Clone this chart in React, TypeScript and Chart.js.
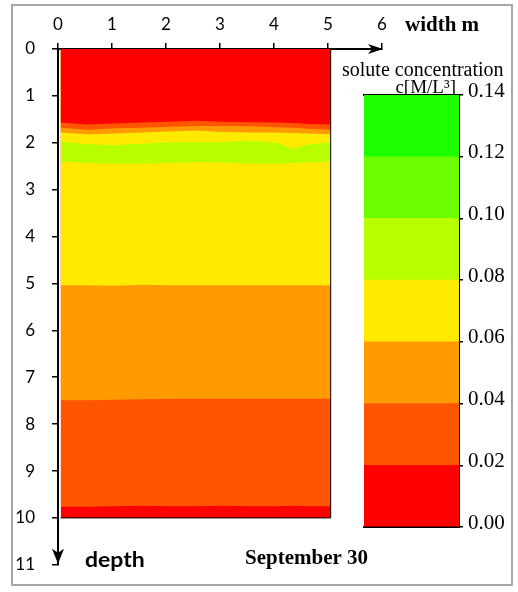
import React, { useEffect, useRef } from "react";
import { Chart, registerables } from "chart.js";

Chart.register(...registerables);

// ---- axes ----
const widthTicks = [0, 1, 2, 3, 4, 5, 6];
const depthTicks = [0, 1, 2, 3, 4, 5, 6, 7, 8, 9, 10, 11];

// ---- contour boundaries (depth, m) sampled along the width (m) ----
const xs = [0.05, 0.55, 1.05, 1.55, 2.05, 2.55, 3.05, 3.55, 4.05, 4.35, 4.65, 5.05];
const bRedOrangeRed = [1.57, 1.61, 1.59, 1.57, 1.55, 1.53, 1.55, 1.56, 1.57, 1.58, 1.6, 1.61];
const bOrangeRedOrange = [1.68, 1.72, 1.69, 1.68, 1.66, 1.64, 1.64, 1.65, 1.67, 1.68, 1.7, 1.72];
const bOrangeYellow = [1.78, 1.82, 1.8, 1.78, 1.76, 1.74, 1.77, 1.78, 1.78, 1.79, 1.8, 1.82];
const bYellowGreen = [1.97, 2.03, 2.05, 2.02, 1.99, 1.99, 1.99, 1.95, 2.0, 2.13, 2.03, 1.99];
const bGreenYellow = [2.4, 2.43, 2.44, 2.44, 2.43, 2.41, 2.42, 2.44, 2.44, 2.43, 2.42, 2.4];
const bYellowOrange = [5.04, 5.04, 5.05, 5.03, 5.04, 5.04, 5.04, 5.04, 5.04, 5.04, 5.04, 5.04];
const bOrangeOrangeRed = [7.49, 7.49, 7.48, 7.47, 7.46, 7.46, 7.46, 7.46, 7.46, 7.46, 7.46, 7.46];
const bOrangeRedRed = [9.76, 9.76, 9.75, 9.74, 9.75, 9.75, 9.74, 9.75, 9.75, 9.74, 9.75, 9.75];
const bBottom = [10, 10, 10, 10, 10, 10, 10, 10, 10, 10, 10, 10];

// ---- colour scale ----
const concLevels = [0, 0.02, 0.04, 0.06, 0.08, 0.1, 0.12, 0.14];
const concColors = ["#FF0000", "#FF5500", "#FF9A00", "#FFEA00", "#B8FF00", "#6CFF00", "#1EFF00"];

// boundary -> colour of the band lying just above it
const boundaries = [
  bRedOrangeRed,
  bOrangeRedOrange,
  bOrangeYellow,
  bYellowGreen,
  bGreenYellow,
  bYellowOrange,
  bOrangeOrangeRed,
  bOrangeRedRed,
  bBottom,
];
const bandColors = [
  concColors[0],
  concColors[1],
  concColors[2],
  concColors[3],
  concColors[4],
  concColors[3],
  concColors[2],
  concColors[1],
  concColors[0],
];

const SERIF = "'Liberation Serif', 'Times New Roman', serif";
const SANS = "Lato, 'Open Sans', sans-serif";

function drawText(
  ctx: CanvasRenderingContext2D,
  text: string,
  x: number,
  y: number,
  font: string,
  align: CanvasTextAlign = "left",
  sx = 1
) {
  ctx.save();
  ctx.font = font;
  ctx.fillStyle = "#000";
  ctx.textAlign = align;
  ctx.textBaseline = "alphabetic";
  ctx.translate(x, y);
  ctx.scale(sx, 1);
  ctx.fillText(text, 0, 0);
  ctx.restore();
}

const framePlugin = {
  id: "frame",
  beforeDraw(chart: any) {
    const ctx = chart.ctx as CanvasRenderingContext2D;
    ctx.save();
    ctx.fillStyle = "#fff";
    ctx.fillRect(0, 0, chart.width, chart.height);
    ctx.strokeStyle = "#A6A6A6";
    ctx.lineWidth = 2;
    ctx.strokeRect(12, 5, 500, 580);
    ctx.restore();
  },
  afterDraw(chart: any) {
    const ctx = chart.ctx as CanvasRenderingContext2D;
    const xs_ = chart.scales.x;
    const ys_ = chart.scales.y;
    const top = chart.chartArea.top;
    const left = chart.chartArea.left;
    ctx.save();
    ctx.fillStyle = "#000";
    // arrow at end of width axis
    const ax = xs_.getPixelForValue(6);
    ctx.beginPath();
    ctx.moveTo(ax + 1, top);
    ctx.lineTo(ax - 14, top - 5);
    ctx.lineTo(ax - 10, top);
    ctx.lineTo(ax - 14, top + 5);
    ctx.closePath();
    ctx.fill();
    // arrow at end of depth axis
    const ay = ys_.getPixelForValue(11) - 1;
    ctx.beginPath();
    ctx.moveTo(left, ay);
    ctx.lineTo(left - 6, ay - 15);
    ctx.lineTo(left, ay - 11);
    ctx.lineTo(left + 6, ay - 15);
    ctx.closePath();
    ctx.fill();
    ctx.restore();

    drawText(ctx, "width m", 405, 31, `bold 21px ${SERIF}`);
    drawText(ctx, "solute concentration", 342, 76, `20px ${SERIF}`);
    drawText(ctx, "c[M/L³]", 456, 93, `19px ${SERIF}`, "right");
    drawText(ctx, "depth", 85, 567, `bold 20px ${SANS}`, "left", 1.15);
    drawText(ctx, "September 30", 245, 564, `bold 21px ${SERIF}`);
  },
};

export default function App() {
  const mainRef = useRef<HTMLCanvasElement | null>(null);
  const barRef = useRef<HTMLCanvasElement | null>(null);

  useEffect(() => {
    const main = new Chart(mainRef.current as HTMLCanvasElement, {
      type: "line",
      data: {
        datasets: [
          ...boundaries.map((b, i) => ({
            data: xs.map((x, j) => ({ x, y: b[j] })),
            backgroundColor: bandColors[i],
            borderColor: "transparent",
            borderWidth: 1,
            pointRadius: 0,
            fill: { value: 0 },
            tension: 0,
            order: 0,
          })),
          {
            data: [
              { x: xs[0], y: 10 },
              { x: xs[xs.length - 1], y: 10 },
              { x: xs[xs.length - 1], y: 0 },
            ],
            borderColor: "#000",
            borderWidth: 1,
            pointRadius: 0,
            fill: false,
            tension: 0,
            order: -1,
          },
        ],
      },
      options: {
        animation: false,
        responsive: false,
        maintainAspectRatio: false,
        layout: { padding: { left: 0, top: 0, right: 136, bottom: 13 } },
        plugins: { legend: { display: false }, tooltip: { enabled: false } },
        scales: {
          x: {
            type: "linear",
            position: "top",
            min: 0,
            max: 6,
            afterBuildTicks: (s: any) => {
              s.ticks = widthTicks.map((v) => ({ value: v }));
            },
            afterFit: (s: any) => {
              s.height = 49;
            },
            ticks: {
              font: { family: SANS, size: 17 },
              color: "#000",
              padding: 8,
              maxRotation: 0,
              autoSkip: false,
            },
            grid: { drawOnChartArea: false, tickLength: 6, color: "#000", lineWidth: 1.5 },
            border: { color: "#000", width: 2 },
          },
          y: {
            type: "linear",
            reverse: true,
            min: 0,
            max: 11,
            afterBuildTicks: (s: any) => {
              s.ticks = depthTicks.map((v) => ({ value: v }));
            },
            afterFit: (s: any) => {
              s.width = 58;
            },
            ticks: {
              font: { family: SANS, size: 17 },
              color: "#000",
              padding: 17,
              autoSkip: false,
            },
            grid: { drawOnChartArea: false, tickLength: 6, color: "#000", lineWidth: 1.5 },
            border: { color: "#000", width: 2 },
          },
        },
      },
      plugins: [framePlugin],
    } as any);

    const bar = new Chart(barRef.current as HTMLCanvasElement, {
      type: "bar",
      data: {
        labels: ["c"],
        datasets: concColors.map((col, i) => ({
          data: [[concLevels[i], concLevels[i + 1]]],
          backgroundColor: col,
          borderWidth: 0,
          barPercentage: 1,
          categoryPercentage: 1,
          grouped: false,
        })),
      },
      options: {
        animation: false,
        responsive: false,
        maintainAspectRatio: false,
        layout: { padding: { left: 364, top: 95, right: 0, bottom: 65 } },
        plugins: { legend: { display: false }, tooltip: { enabled: false } },
        scales: {
          x: {
            type: "category",
            position: "bottom",
            ticks: { display: false },
            grid: { display: false },
            border: { color: "#000", width: 2 },
            afterFit: (s: any) => {
              s.height = 0;
            },
          },
          xTop: {
            type: "category",
            position: "top",
            ticks: { display: false },
            grid: { display: false },
            border: { color: "#000", width: 2 },
            afterFit: (s: any) => {
              s.height = 0;
            },
          },
          y: {
            type: "linear",
            position: "right",
            min: 0,
            max: 0.14,
            afterBuildTicks: (s: any) => {
              s.ticks = concLevels.map((v) => ({ value: v }));
            },
            afterFit: (s: any) => {
              s.width = 59;
            },
            ticks: {
              callback: (v: any) => Number(v).toFixed(2),
              font: { family: SERIF, size: 21 },
              color: "#000",
              padding: 5,
              labelOffset: -4,
              autoSkip: false,
            },
            grid: { drawOnChartArea: false, tickLength: 4, color: "#000", lineWidth: 1.5 },
            border: { color: "#000", width: 2 },
          },
        },
      },
    } as any);

    return () => {
      main.destroy();
      bar.destroy();
    };
  }, []);

  return (
    <div style={{ position: "absolute", left: 0, top: 0, width: 518, height: 592 }}>
      <canvas
        ref={mainRef}
        width={518}
        height={592}
        style={{ position: "absolute", left: 0, top: 0 }}
      />
      <canvas
        ref={barRef}
        width={518}
        height={592}
        style={{ position: "absolute", left: 0, top: 0 }}
      />
    </div>
  );
}
